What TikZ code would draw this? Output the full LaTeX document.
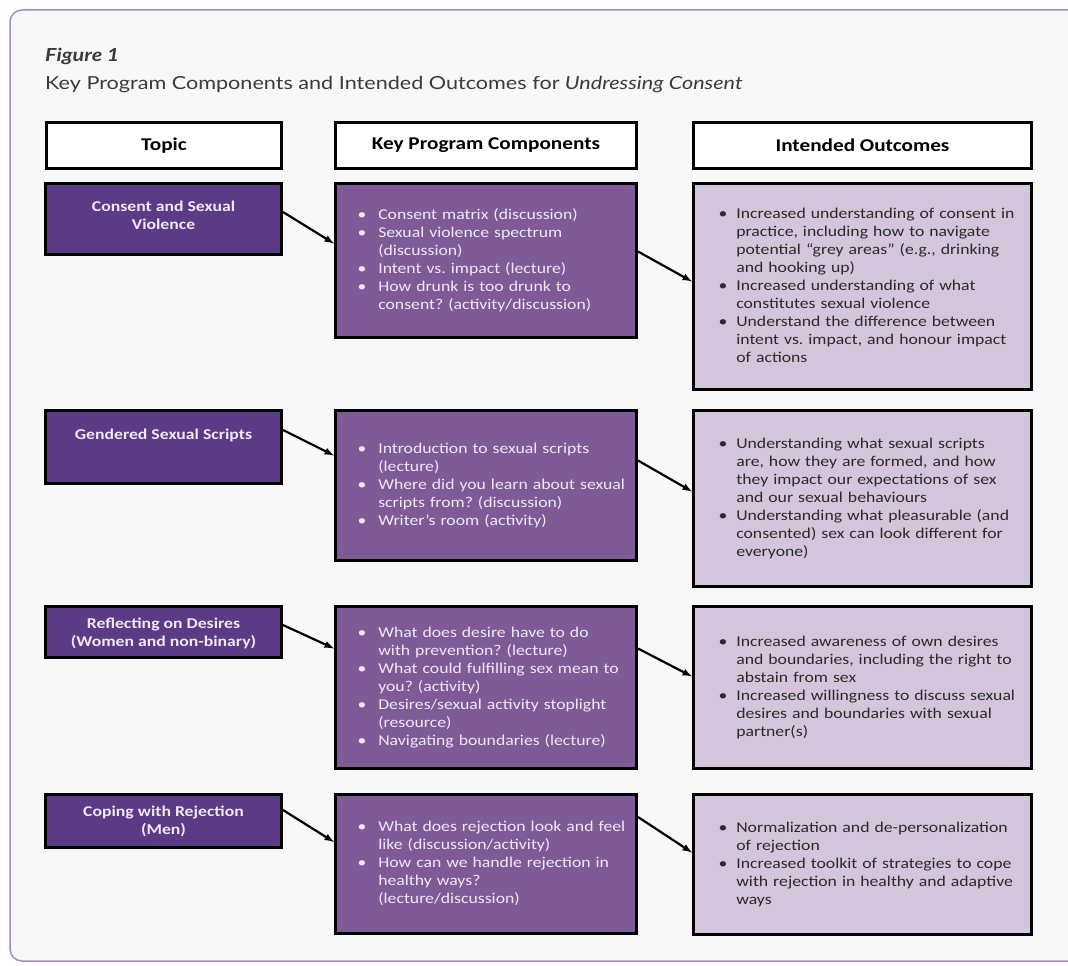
\documentclass[tikz,border=0pt]{standalone}
\usepackage{fontspec}
\usepackage{tikz}
\usetikzlibrary{positioning}
\setmainfont{Carlito}[FakeStretch=1.18]
\newfontfamily\titlefont{Lato}[FakeStretch=1.2]
\setlength{\parindent}{0pt}
\frenchspacing

\definecolor{topicpurple}{HTML}{5B3A86}
\definecolor{comppurple}{HTML}{7E5A96}
\definecolor{outlav}{HTML}{D4C5DC}
\definecolor{framebg}{HTML}{F8F8F8}
\definecolor{frameline}{HTML}{A48BC6}
\definecolor{lighttext}{HTML}{F0E9F4}
\definecolor{darktext}{HTML}{2A2A2A}
\definecolor{titletext}{HTML}{3A3A3A}

% first baseline fixed from the top of a topic box
\newcommand{\topiclabel}[3]{\parbox[c][#1pt][t]{226pt}{\centering\rule{0pt}{#2pt}#3}}

\begin{document}
\begin{tikzpicture}
[
	x=1pt, y=-1pt,
	header/.style={draw, line width=3pt, fill=white, anchor=north west, minimum height=46pt, font=\fontsize{18pt}{21pt}\selectfont\bfseries},
	topic/.style={draw, line width=3pt, fill=topicpurple, anchor=north west, inner sep=0pt, minimum width=236pt, text=lighttext, font=\fontsize{15pt}{18pt}\selectfont\bfseries},
	comp/.style={draw, line width=3pt, fill=comppurple, anchor=north west, minimum width=301pt, inner xsep=22pt, text width=257pt, align=left, text=lighttext, font=\fontsize{15pt}{18pt}\selectfont},
	outcome/.style={draw, line width=3pt, fill=outlav, anchor=north west, minimum width=338pt, inner xsep=25pt, text width=288pt, align=left, text=darktext, font=\fontsize{15pt}{18pt}\selectfont},
	flow/.style={->, -latex, line width=2.2pt}
  ]
	\useasboundingbox (0,0) rectangle (1068,966);
	\clip (0,0) rectangle (1068,966);
	\fill[white] (0,0) rectangle (1068,966);
	\draw[frameline, fill=framebg, line width=1.5pt, rounded corners=12pt] (10,10) rectangle (1100,961);

	\node[anchor=base west, inner sep=0pt, text=titletext, font=\titlefont\fontsize{18pt}{21pt}\selectfont\bfseries\itshape] (fig) at (45,62) {Figure 1};
	\node[anchor=base west, inner sep=0pt, text=titletext, font=\titlefont\fontsize{18pt}{21pt}\selectfont] (caption) at (45,89) {Key Program Components and Intended Outcomes for \textit{Undressing Consent}};

	\node[header, minimum width=235pt] (hT) at (45,121) {Topic};
	\node[header, minimum width=301pt, right=51pt of hT.north east, anchor=north west] (hK) {Key Program Components};
	\node[header, minimum width=338pt, right=54pt of hK.north east, anchor=north west] (hO) {Intended Outcomes};

	% consent and sexual violence
	\node[topic, minimum height=71pt] (T1) at (44,182) {\topiclabel{71}{28}{Consent and Sexual\\Violence}};
	\node[comp, minimum height=154pt, right=51pt of T1.north east, anchor=north west] (K1) {\begin{tabular}{@{}l@{\hspace{12pt}}l@{}}
		• & Consent matrix (discussion)\\
		• & Sexual violence spectrum\\
		  & (discussion)\\
		• & Intent vs. impact (lecture)\\
		• & How drunk is too drunk to\\
		  & consent? (activity/discussion)
	\end{tabular}};
	\node[outcome, minimum height=206pt, right=54pt of K1.north east, anchor=north west] (O1) {\begin{tabular}{@{}l@{\hspace{9pt}}l@{}}
		• & Increased understanding of consent in\\
		  & practice, including how to navigate\\
		  & potential “grey areas” (e.g., drinking\\
		  & and hooking up)\\
		• & Increased understanding of what\\
		  & constitutes sexual violence\\
		• & Understand the difference between\\
		  & intent vs. impact, and honour impact\\
		  & of actions
	\end{tabular}};

	% gendered sexual scripts
	\node[topic, minimum height=73pt] (T2) at (44,409) {\topiclabel{73}{29}{Gendered Sexual Scripts}};
	\node[comp, minimum height=150pt, right=51pt of T2.north east, anchor=north west] (K2) {\begin{tabular}{@{}l@{\hspace{12pt}}l@{}}
		• & Introduction to sexual scripts\\
		  & (lecture)\\
		• & Where did you learn about sexual\\
		  & scripts from? (discussion)\\
		• & Writer’s room (activity)
	\end{tabular}};
	\node[outcome, minimum height=176pt, right=54pt of K2.north east, anchor=north west] (O2) {\begin{tabular}{@{}l@{\hspace{9pt}}l@{}}
		• & Understanding what sexual scripts\\
		  & are, how they are formed, and how\\
		  & they impact our expectations of sex\\
		  & and our sexual behaviours\\
		• & Understanding what pleasurable (and\\
		  & consented) sex can look different for\\
		  & everyone)
	\end{tabular}};

	% reflecting on desires
	\node[topic, minimum height=51pt] (T3) at (44,605) {\topiclabel{51}{22}{Reflecting on Desires\\(Women and non-binary)}};
	\node[comp, minimum height=162pt, right=51pt of T3.north east, anchor=north west] (K3) {\begin{tabular}{@{}l@{\hspace{12pt}}l@{}}
		• & What does desire have to do\\
		  & with prevention? (lecture)\\
		• & What could fulfilling sex mean to\\
		  & you? (activity)\\
		• & Desires/sexual activity stoplight\\
		  & (resource)\\
		• & Navigating boundaries (lecture)
	\end{tabular}};
	\node[outcome, minimum height=162pt, right=54pt of K3.north east, anchor=north west] (O3) {\begin{tabular}{@{}l@{\hspace{9pt}}l@{}}
		• & Increased awareness of own desires\\
		  & and boundaries, including the right to\\
		  & abstain from sex\\
		• & Increased willingness to discuss sexual\\
		  & desires and boundaries with sexual\\
		  & partner(s)
	\end{tabular}};

	% coping with rejection
	\node[topic, minimum height=53pt] (T4) at (44,793) {\topiclabel{53}{22}{Coping with Rejection\\(Men)}};
	\node[comp, minimum height=139pt, right=51pt of T4.north east, anchor=north west] (K4) {\begin{tabular}{@{}l@{\hspace{12pt}}l@{}}
		• & What does rejection look and feel\\
		  & like (discussion/activity)\\
		• & How can we handle rejection in\\
		  & healthy ways?\\
		  & (lecture/discussion)
	\end{tabular}};
	\node[outcome, minimum height=140pt, right=54pt of K4.north east, anchor=north west] (O4) {\begin{tabular}{@{}l@{\hspace{9pt}}l@{}}
		• & Normalization and de-personalization\\
		  & of rejection\\
		• & Increased toolkit of strategies to cope\\
		  & with rejection in healthy and adaptive\\
		  & ways
	\end{tabular}};

	\draw[flow] ([yshift=7pt]T1.east) -- ([yshift=17pt]K1.west);
	\draw[flow] ([yshift=9pt]K1.east) -- ([yshift=5pt]O1.west);
	\draw[flow] ([yshift=17pt]T2.east) -- ([yshift=30pt]K2.west);
	\draw[flow] ([yshift=25pt]K2.east) -- ([yshift=7pt]O2.west);
	\draw[flow] ([yshift=7pt]T3.east) -- ([yshift=39pt]K3.west);
	\draw[flow] ([yshift=39pt]K3.east) -- ([yshift=11pt]O3.west);
	\draw[flow] ([yshift=11pt]T4.east) -- ([yshift=22pt]K4.west);
	\draw[flow] ([yshift=47pt]K4.east) -- ([yshift=12pt]O4.west);
\end{tikzpicture}
\end{document}
